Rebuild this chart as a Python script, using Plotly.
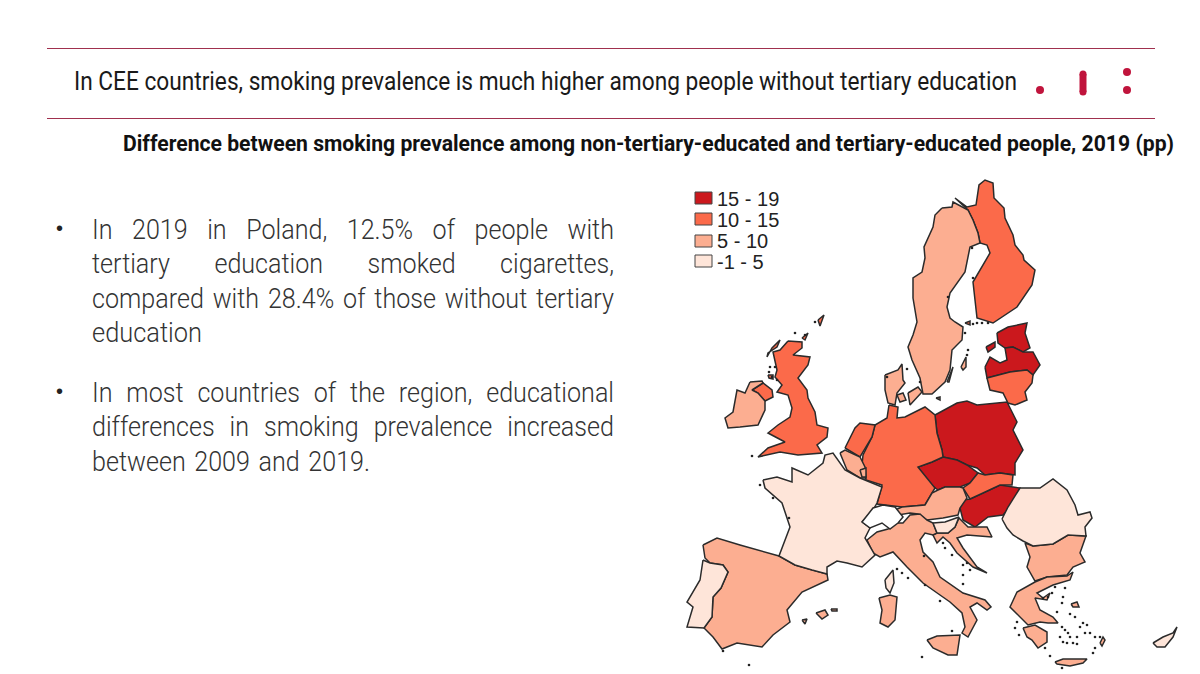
import plotly.graph_objects as go

# Outlines, in picture pixels (the axes below run 0-1200 / 674-0)
finland = [(955,198),(967,207),(976,205),(979,185),(985,180),(993,183),(994,198),(1004,208),(1005,218),(1013,235),(1015,245),(1023,255),(1024,260),(1035,270),(1032,285),(1017,307),(993,323),(977,318),(973,282),(990,253),(987,245),(980,243),(978,233),(973,220),(968,210)]
aland = [(965,323),(970,321),(970,325)]
sweden = [(942,208),(952,207),(953,202),(968,210),(973,220),(978,233),(980,243),(970,247),(965,272),(950,293),(947,307),(950,318),(955,322),(963,327),(962,340),(952,350),(950,370),(945,382),(932,394),(923,394),(920,378),(912,360),(908,347),(913,335),(917,322),(913,298),(913,278),(922,272),(925,258),(924,247),(933,227),(935,215)]
gotland = [(961,367),(966,357),(966,367),(963,370)]
oland = [(947,382),(953,367),(949,382)]
estonia = [(997,333),(1008,327),(1027,323),(1025,333),(1030,348),(1023,352),(1013,347),(1005,348),(998,343)]
saaremaa = [(986,347),(995,342),(995,347),(988,352)]
latvia = [(985,367),(990,357),(1000,363),(1007,360),(1005,348),(1013,347),(1023,352),(1033,352),(1040,365),(1033,375),(1027,370),(1010,372),(987,378)]
lithuania = [(987,378),(1010,372),(1027,370),(1033,375),(1032,383),(1025,392),(1027,400),(1015,405),(1008,403),(1003,393),(990,390)]
poland = [(935,415),(957,403),(967,401),(977,405),(1007,402),(1017,422),(1013,430),(1023,450),(1015,463),(1015,475),(1000,473),(985,475),(977,468),(967,465),(957,460),(943,457),(942,450),(937,433)]
germany = [(889,405),(898,407),(897,418),(905,417),(925,407),(935,415),(937,433),(942,450),(943,457),(932,462),(918,467),(935,488),(932,493),(925,505),(902,507),(885,505),(877,504),(882,485),(866,480),(862,465),(863,455),(872,437),(875,425),(887,418)]
czechia = [(918,467),(932,462),(943,457),(957,460),(967,465),(978,473),(970,483),(960,487),(945,487),(938,490),(927,482)]
slovakia = [(978,473),(985,475),(1000,473),(1013,475),(1012,485),(1000,485),(983,493),(970,499),(963,488),(970,483)]
hungary = [(970,499),(983,493),(1000,485),(1020,488),(1010,507),(1003,515),(988,517),(975,527),(963,520),(960,508),(963,500)]
austria = [(895,510),(902,507),(925,505),(932,493),(938,490),(945,487),(960,487),(963,488),(967,498),(960,508),(958,515),(943,518),(927,520),(918,514),(910,513),(898,515)]
slovenia = [(933,523),(945,522),(959,517),(955,527),(948,533),(937,533)]
croatia = [(959,518),(968,527),(987,527),(992,537),(967,535),(957,538),(963,548),(977,567),(987,573),(973,567),(957,553),(950,543),(943,537),(937,543),(933,535),(937,533),(948,533),(955,527)]
romania = [(1002,519),(1008,507),(1020,488),(1040,488),(1053,479),(1067,490),(1075,505),(1078,515),(1090,512),(1092,518),(1085,527),(1086,536),(1068,535),(1053,544),(1033,546),(1023,541),(1013,535),(1007,528)]
bulgaria = [(1025,543),(1033,546),(1053,544),(1068,535),(1086,536),(1080,553),(1085,562),(1073,567),(1067,575),(1047,577),(1035,581),(1027,567),(1030,557)]
greece = [(1035,582),(1047,577),(1067,576),(1073,572),(1070,580),(1053,585),(1037,593),(1043,598),(1050,593),(1047,600),(1035,598),(1040,610),(1053,617),(1058,623),(1048,623),(1040,622),(1028,625),(1020,617),(1010,607),(1017,592)]
peloponnese = [(1023,628),(1035,625),(1047,632),(1047,642),(1038,648),(1032,640),(1027,637)]
crete = [(1055,662),(1063,659),(1087,659),(1083,663),(1070,666),(1057,664)]
lesbos = [(1071,604),(1077,602),(1079,607),(1073,607)]
rhodes = [(1100,643),(1103,637),(1105,640),(1102,646)]
cyprus = [(1153,643),(1163,637),(1173,633),(1177,627),(1173,637),(1165,647),(1157,647)]
italy = [(867,540),(877,532),(888,529),(895,523),(903,523),(910,515),(920,514),(927,520),(933,523),(937,533),(933,535),(925,533),(920,540),(923,552),(933,562),(940,577),(963,593),(985,600),(991,607),(987,610),(977,603),(970,607),(977,620),(968,637),(962,633),(965,627),(962,613),(950,602),(940,595),(923,583),(907,567),(893,552),(880,557),(873,553)]
sicily = [(927,640),(937,636),(960,635),(957,655),(948,655),(933,648)]
sardinia = [(879,598),(890,595),(897,597),(895,620),(888,627),(880,623),(882,610)]
corsica = [(885,580),(893,570),(894,583),(890,593),(886,588)]
france = [(763,480),(777,477),(792,482),(792,468),(808,475),(823,463),(825,455),(833,453),(845,470),(860,478),(882,487),(877,503),(873,510),(862,522),(870,528),(865,538),(875,555),(862,567),(847,563),(837,561),(827,567),(827,574),(812,570),(795,565),(779,556),(790,527),(782,503),(765,488)]
switzerland = [(862,522),(873,508),(883,505),(895,507),(903,517),(898,523),(890,529),(882,523),(870,528)]
spain = [(703,545),(717,538),(740,545),(779,556),(795,565),(812,570),(827,574),(828,580),(802,592),(787,610),(790,622),(773,635),(762,647),(737,643),(722,649),(713,637),(704,628),(712,617),(713,597),(721,588),(728,572),(723,565),(710,563),(705,558)]
portugal = [(703,560),(710,563),(723,565),(728,572),(721,588),(713,597),(712,617),(704,628),(687,627),(693,607),(687,602),(700,580)]
mallorca = [(816,613),(825,610),(828,615),(822,619)]
menorca = [(831,609),(837,609),(837,611),(832,611)]
ibiza = [(802,620),(807,619),(805,624)]
belgium = [(840,453),(845,450),(860,457),(865,467),(866,478),(860,478),(847,470)]
netherlands = [(845,448),(855,428),(860,423),(875,425),(872,437),(862,453),(860,457)]
luxembourg = [(860,470),(866,468),(866,477),(862,477)]
britain = [(788,341),(802,342),(802,348),(793,355),(810,357),(808,365),(798,378),(807,390),(808,398),(815,412),(817,425),(828,428),(827,437),(817,445),(822,453),(798,455),(780,452),(758,457),(768,448),(785,442),(768,433),(778,425),(790,417),(792,408),(788,395),(777,392),(782,385),(775,377),(777,370),(773,352),(780,350)]
northern_ireland = [(752,390),(763,383),(772,390),(773,397),(765,401),(758,393)]
skye = [(767,357),(772,348),(780,340),(777,347),(768,353)]
shetland = [(818,320),(824,315),(820,326)]
uist = [(768,375),(773,375),(773,379),(769,378)]
orkney = [(802,338),(808,333),(805,340)]
ireland = [(750,382),(762,381),(763,383),(752,390),(758,393),(765,401),(765,410),(758,425),(740,427),(728,428),(725,418),(733,412),(737,390),(745,393)]
denmark = [(885,375),(898,370),(902,364),(903,380),(905,383),(897,393),(895,405),(888,403),(885,390)]
zealand = [(908,393),(918,387),(922,392),(915,400),(910,405)]
funen = [(897,395),(903,393),(906,400),(900,402)]
bornholm = [(936,398),(940,397),(940,400)]

islet_x = [963,970,963,967,963,940,952,922,925,924,1055,1065,1063,1062,1057,1070,1075,1017,1015,1019,1045,1050,1062,1062,1065,1068,1060,1063,1070,1077,1083,1087,1090,1095,1100,1095,1093,1073,1077,1067,1085,1080,943,945,952,1043,1048,1052,752,760,773,789,723,749,897,902,908,795,815,805,770,769,775,772,777,968,967,965,948,973,972,907,920,887,982,977,973,988]
islet_y = [575,570,565,563,584,601,631,657,585,556,587,588,597,603,612,614,617,622,628,635,648,656,668,627,630,633,637,642,637,637,623,625,633,637,637,648,653,643,644,643,633,627,543,548,555,598,597,593,456,485,498,518,651,665,569,573,578,333,322,335,367,372,367,377,380,350,355,333,297,278,248,369,382,377,323,323,324,323]

class_labels = ["15 - 19", "10 - 15", "5 - 10", "-1 - 5"]
class_colors = ["#CB181D", "#FB6A4A", "#FCAE91", "#FEE5D9"]

class_regions = {
    "15 - 19": [estonia, saaremaa, latvia, poland, czechia, hungary],
    "10 - 15": [finland, aland, lithuania, germany, slovakia, netherlands, britain, northern_ireland, skye, shetland, uist, orkney],
    "5 - 10": [sweden, gotland, oland, austria, croatia, bulgaria, greece, peloponnese, crete, lesbos, rhodes,
               italy, sicily, sardinia, spain, mallorca, menorca, ibiza, belgium, luxembourg, ireland,
               denmark, zealand, funen, bornholm],
    "-1 - 5": [slovenia, romania, cyprus, corsica, france, portugal],
}

title_text = "In CEE countries, smoking prevalence is much higher among people without tertiary education"
subtitle_text = "Difference between smoking prevalence among non-tertiary-educated and tertiary-educated people, 2019 (pp)"
body_lines = [
    "In 2019 in Poland, 12.5% of people with",
    "tertiary education smoked cigarettes,",
    "compared with 28.4% of those without tertiary",
    "education",
    "In most countries of the region, educational",
    "differences in smoking prevalence increased",
    "between 2009 and 2019.",
]
body_centres = [230, 264, 299, 333, 393, 427, 462]
body_widths = [522, 522, 522, 110, 522, 522, 278]
bullet_centres = [228, 391]

logo_dot_x = [1040, 1127, 1127]
logo_dot_y = [90, 72, 90]
logo_bar_x = [1083, 1083]
logo_bar_y = [74, 92]
LOGO_RED = "#C0143C"
OUTLINE = "#2b2b2b"

fig = go.Figure()


def add_region(points, color):
    fig.add_trace(go.Scatter(
        x=[p[0] for p in points] + [points[0][0]],
        y=[p[1] for p in points] + [points[0][1]],
        mode="lines",
        fill="toself",
        fillcolor=color,
        line=dict(color=OUTLINE, width=1.5),
        hoverinfo="skip",
        showlegend=False,
    ))


for label, color in zip(class_labels, class_colors):
    for region in class_regions[label]:
        add_region(region, color)
add_region(switzerland, "white")

fig.add_trace(go.Scatter(
    x=islet_x, y=islet_y, mode="markers",
    marker=dict(color="#222222", size=2.6),
    hoverinfo="skip", showlegend=False,
))

# logo
fig.add_trace(go.Scatter(
    x=logo_dot_x, y=logo_dot_y, mode="markers",
    marker=dict(color=LOGO_RED, size=8),
    hoverinfo="skip", showlegend=False,
))
fig.add_trace(go.Scatter(
    x=logo_bar_x, y=logo_bar_y, mode="lines+markers",
    line=dict(color=LOGO_RED, width=7),
    marker=dict(color=LOGO_RED, size=7),
    hoverinfo="skip", showlegend=False,
))


def add_text(text, x, y, size, family="Roboto", weight=400, color="#1a1a1a"):
    fig.add_annotation(
        x=x, y=y, xref="x", yref="y", text=text, showarrow=False,
        xanchor="left", yanchor="middle", align="left",
        font=dict(family=family, size=size, weight=weight, color=color),
    )


add_text(title_text, 72, 81, 26)
add_text(subtitle_text, 121, 143, 21.5, weight=700, color="#111111")
for line, centre in zip(body_lines, body_centres):
    add_text(line, 90, centre, 27, weight=300, color="#333333")
for centre in bullet_centres:
    add_text("•", 54, centre, 20, family="Liberation Sans", color="#222222")

# legend drawn by hand, the original box is tight against the map
swatch_tops = [192, 213, 235, 255]
legend_centres = [199, 220, 241, 262]
for label, color, top, centre in zip(class_labels, class_colors, swatch_tops, legend_centres):
    fig.add_shape(type="rect", x0=695, x1=712, y0=top, y1=top + 12,
                  fillcolor=color, line=dict(color="#444444", width=1))
    add_text(label, 715, centre, 20, family="Liberation Sans", color="#222222")

for y in [48.5, 118.5]:
    fig.add_shape(type="line", x0=47, x1=1155, y0=y, y1=y, line=dict(color="#A0304E", width=1))

fig.update_xaxes(visible=False, range=[0, 1200], fixedrange=True)
fig.update_yaxes(visible=False, range=[674, 0], fixedrange=True)
fig.update_layout(
    width=1200, height=674,
    margin=dict(l=0, r=0, t=0, b=0),
    paper_bgcolor="white", plot_bgcolor="white",
    showlegend=False,
)

# page margin off, then fit lines to the measured widths (title squeezed, body narrowed and justified)
post_script = """
document.body.style.margin = '0';
var fits = %s;
var squeezed = %s;
var glyphScale = 0.93;
document.querySelectorAll('.annotation-text').forEach(function (el) {
    var t = el.textContent;
    if (squeezed[t]) {
        el.setAttribute('textLength', squeezed[t]);
        el.setAttribute('lengthAdjust', 'spacingAndGlyphs');
    } else if (fits[t]) {
        var gaps = t.split(' ').length - 1;
        if (gaps > 0) {
            var extra = fits[t] / glyphScale - el.getComputedTextLength();
            el.style.wordSpacing = (extra / gaps) + 'px';
        }
        el.setAttribute('textLength', fits[t]);
        el.setAttribute('lengthAdjust', 'spacingAndGlyphs');
    }
});
""" % (
    str(dict(zip(body_lines, body_widths))),
    str({title_text: 943, subtitle_text: 1051}),
)

fig.write_html("out.html", post_script=post_script, config={"displayModeBar": False})
